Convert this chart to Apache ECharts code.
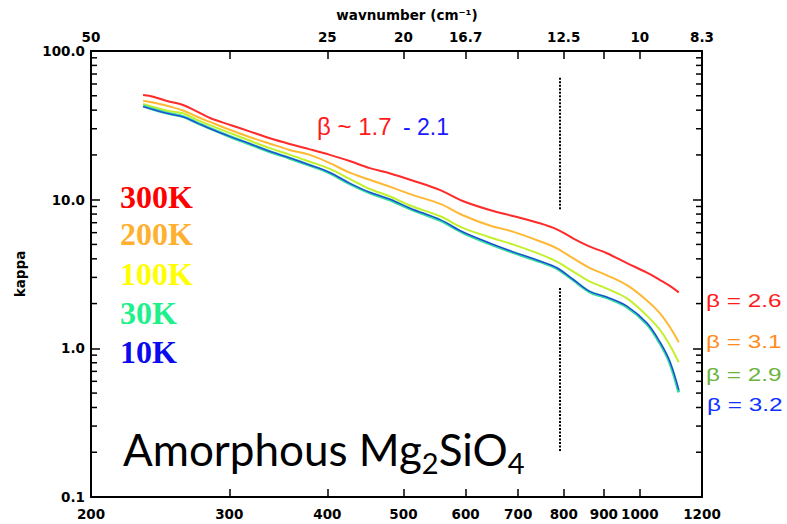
<!DOCTYPE html>
<html>
<head>
<meta charset="utf-8">
<script src="https://cdn.jsdelivr.net/npm/echarts@6/dist/echarts.min.js"></script>
<style>
  html, body { margin: 0; padding: 0; background: #ffffff; }
  #chart { width: 787px; height: 524px; }
</style>
</head>
<body>
<div id="chart"></div>
<script>
// Wavelength grid (micron) shared by every temperature curve
const wavelength = [233, 240, 250, 262, 273, 284, 301, 319, 338, 358, 380, 403, 427, 453, 481,
                    510, 557, 595, 644, 689, 746, 784, 822, 864, 908, 963, 1021, 1061, 1092, 1121];

// Mass absorption coefficient for each dust temperature
const kappa300K = [50.6, 49.3, 46.1, 43.3, 39.1, 35.3, 31.8, 28.7, 25.9, 23.7, 21.8, 20.0, 18.2, 16.3, 15.0,
                   13.6, 11.6, 9.80, 8.52, 7.77, 6.94, 6.32, 5.50, 4.83, 4.36, 3.74, 3.23, 2.88, 2.63, 2.38];
const kappa200K = [46.3, 45.0, 42.8, 39.8, 36.1, 33.2, 29.4, 26.3, 23.8, 21.6, 20.0, 17.6, 15.2, 13.6, 12.2,
                   10.9, 9.36, 7.86, 6.71, 6.10, 5.25, 4.71, 4.04, 3.46, 3.10, 2.66, 2.10, 1.72, 1.39, 1.10];
const kappa100K = [44.0, 42.0, 39.7, 38.1, 34.4, 31.6, 28.0, 24.9, 22.2, 20.1, 18.0, 16.1, 13.8, 11.8, 10.5,
                   9.13, 7.73, 6.46, 5.59, 5.00, 4.30, 3.83, 3.29, 2.81, 2.52, 2.17, 1.66, 1.33, 1.05, 0.806];
const kappa30K  = [42.7, 40.6, 38.2, 36.2, 32.9, 30.0, 26.5, 23.6, 21.0, 19.0, 17.0, 15.1, 12.8, 11.1, 9.95,
                   8.67, 7.25, 6.01, 5.05, 4.42, 3.83, 3.45, 2.89, 2.39, 2.19, 1.90, 1.46, 1.08, 0.798, 0.505];
const kappa10K  = [42.3, 40.3, 38.0, 36.0, 32.8, 29.9, 26.5, 23.7, 21.1, 19.1, 17.1, 15.2, 12.9, 11.2, 10.05,
                   8.75, 7.33, 6.07, 5.10, 4.46, 3.86, 3.48, 2.91, 2.41, 2.21, 1.92, 1.48, 1.10, 0.815, 0.525];

const temperatureNames = ['300K', '200K', '100K', '30K', '10K'];

// Axis ticks and labels
const xTickValues = [200, 300, 400, 500, 600, 700, 800, 900, 1000, 1200];
const topLabelWavelengths = [200, 400, 500, 600, 800, 1000, 1200];
const topLabels = ['50', '25', '20', '16.7', '12.5', '10', '8.3'];
const yTickValues = [0.1, 1, 10, 100];
const yTickLabels = ['0.1', '1.0', '10.0', '100.0'];
const yMinorTicks = [0.2, 0.3, 0.4, 0.5, 0.6, 0.7, 0.8, 0.9, 2, 3, 4, 5, 6, 7, 8, 9,
                     20, 30, 40, 50, 60, 70, 80, 90];

// Dotted marker at ~790 micron, split into two pieces around the curves
const dividerWavelength = 790;
const dividerSegments = [[66, 8.5], [2.55, 0.2]];

const AXIS_FONT = '"DejaVu Sans", sans-serif';
const X_MIN = 200, X_MAX = 1200, Y_MIN = 0.1, Y_MAX = 100;

function nearestLabel(v, values, labels) {
  for (let i = 0; i < values.length; i++) {
    if (Math.abs(Math.log10(v) - Math.log10(values[i])) < 1e-3) return labels[i];
  }
  return '';
}

function pairs(ys) { return wavelength.map((w, i) => [w, ys[i]]); }

const chart = echarts.init(document.getElementById('chart'), null, { renderer: 'svg' });

const lineBase = { type: 'line', showSymbol: false, smooth: 0.35, silent: true, animation: false, z: 3 };

const option = {
  backgroundColor: '#ffffff',
  animation: false,
  grid: { left: 91, right: 85, top: 51, bottom: 27, containLabel: false },
  xAxis: [
    {
      type: 'log', logBase: 10, min: X_MIN, max: X_MAX, position: 'bottom',
      axisLine: { show: true, lineStyle: { color: '#000', width: 2 } },
      axisTick: { show: true, inside: true, length: 8, lineStyle: { color: '#000', width: 1.5 }, customValues: xTickValues },
      axisLabel: {
        show: true, customValues: xTickValues, margin: 10, color: '#000',
        fontFamily: AXIS_FONT, fontWeight: 'bold', fontSize: 13.5,
        formatter: v => nearestLabel(v, xTickValues, xTickValues.map(String))
      },
      splitLine: { show: false }, minorTick: { show: false }
    },
    {
      type: 'log', logBase: 10, min: X_MIN, max: X_MAX, position: 'top',
      axisLine: { show: true, lineStyle: { color: '#000', width: 2 } },
      axisTick: { show: true, inside: true, length: 8, lineStyle: { color: '#000', width: 1.5 }, customValues: xTickValues },
      axisLabel: {
        show: true, customValues: topLabelWavelengths, margin: 7, color: '#000',
        fontFamily: AXIS_FONT, fontWeight: 'bold', fontSize: 13.5,
        formatter: v => nearestLabel(v, topLabelWavelengths, topLabels)
      },
      splitLine: { show: false }
    }
  ],
  yAxis: [
    {
      type: 'log', logBase: 10, min: Y_MIN, max: Y_MAX, position: 'left',
      name: 'kappa', nameLocation: 'middle', nameGap: 64, nameRotate: 90,
      nameTextStyle: { color: '#000', fontFamily: AXIS_FONT, fontWeight: 'bold', fontSize: 13.5 },
      axisLine: { show: true, lineStyle: { color: '#000', width: 2 } },
      axisTick: { show: true, inside: true, length: 9, lineStyle: { color: '#000', width: 1.5 } },
      axisLabel: {
        show: true, margin: 6, color: '#000',
        fontFamily: AXIS_FONT, fontWeight: 'bold', fontSize: 13.5,
        formatter: v => nearestLabel(v, yTickValues, yTickLabels)
      },
      splitLine: { show: false }
    },
    {
      type: 'log', logBase: 10, min: Y_MIN, max: Y_MAX, position: 'right',
      axisLine: { show: true, lineStyle: { color: '#000', width: 2 } },
      axisTick: { show: true, inside: true, length: 9, lineStyle: { color: '#000', width: 1.5 } },
      axisLabel: { show: false },
      splitLine: { show: false }
    }
  ],
  series: [
    Object.assign({}, lineBase, {
      name: temperatureNames[0], data: pairs(kappa300K),
      lineStyle: { color: '#ff2a2a', width: 2 },
      markLine: {
        silent: true, symbol: ['none', 'none'], animation: false,
        label: { show: false },
        lineStyle: { color: '#000', type: [2, 1.5], width: 2 },
        data: dividerSegments.map(s => [
          { coord: [dividerWavelength, s[0]] },
          { coord: [dividerWavelength, s[1]] }
        ])
      }
    }),
    Object.assign({}, lineBase, {
      name: temperatureNames[1], data: pairs(kappa200K),
      lineStyle: { color: '#ffb833', width: 2 }
    }),
    Object.assign({}, lineBase, {
      name: temperatureNames[2], data: pairs(kappa100K),
      lineStyle: { color: '#c3f02c', width: 2 }
    }),
    Object.assign({}, lineBase, {
      name: temperatureNames[3], data: pairs(kappa30K),
      lineStyle: { color: '#2ddc9e', width: 3 }
    }),
    Object.assign({}, lineBase, {
      name: temperatureNames[4], data: pairs(kappa10K),
      lineStyle: { color: '#2a3ee0', width: 1.3 }
    }),
    {
      // minor log ticks on the left and right frame
      type: 'custom', silent: true, animation: false, z: 4,
      data: yMinorTicks.map(v => [X_MIN, v]),
      renderItem: (params, api) => {
        const v = api.value(1);
        const l = api.coord([X_MIN, v]);
        const r = api.coord([X_MAX, v]);
        const st = { stroke: '#000', lineWidth: 1.5 };
        return {
          type: 'group',
          children: [
            { type: 'line', shape: { x1: l[0], y1: l[1], x2: l[0] + 6, y2: l[1] }, style: st },
            { type: 'line', shape: { x1: r[0] - 6, y1: r[1], x2: r[0], y2: r[1] }, style: st }
          ]
        };
      }
    }
  ],
  graphic: [
    {
      type: 'text', x: 407, y: 15,
      style: { text: 'wavnumber (cm⁻¹)', fill: '#000', font: 'bold 13.5px "DejaVu Sans"', textAlign: 'center', textVerticalAlign: 'middle' }
    },
    { type: 'text', x: 120, y: 197, style: { text: temperatureNames[0], fill: '#ff0000', font: 'bold 32px "Liberation Serif"', textVerticalAlign: 'middle' } },
    { type: 'text', x: 120, y: 234, style: { text: temperatureNames[1], fill: '#ffb02e', font: 'bold 32px "Liberation Serif"', textVerticalAlign: 'middle' } },
    { type: 'text', x: 120, y: 274, style: { text: temperatureNames[2], fill: '#ffff00', font: 'bold 32px "Liberation Serif"', textVerticalAlign: 'middle' } },
    { type: 'text', x: 120, y: 313, style: { text: temperatureNames[3], fill: '#1ef08c', font: 'bold 32px "Liberation Serif"', textVerticalAlign: 'middle' } },
    { type: 'text', x: 120, y: 352, style: { text: temperatureNames[4], fill: '#0a0aee', font: 'bold 32px "Liberation Serif"', textVerticalAlign: 'middle' } },

    { type: 'text', x: 317, y: 126.5, style: { text: 'β ~ 1.7', fill: '#ff1a1a', font: '24px "Liberation Sans"', textVerticalAlign: 'middle' } },
    { type: 'text', x: 403, y: 126.5, style: { text: '- 2.1', fill: '#1a1aff', font: '23px "Liberation Sans"', textVerticalAlign: 'middle' } },

    { type: 'text', x: 706, y: 300, scaleX: 1.28, style: { text: 'β = 2.6', fill: '#ff1a1a', font: '19px "Liberation Sans"', textVerticalAlign: 'middle' } },
    { type: 'text', x: 706, y: 341.5, scaleX: 1.28, style: { text: 'β = 3.1', fill: '#ff8c1a', font: '19px "Liberation Sans"', textVerticalAlign: 'middle' } },
    { type: 'text', x: 706, y: 374, scaleX: 1.28, style: { text: 'β = 2.9', fill: '#6cb33e', font: '19px "Liberation Sans"', textVerticalAlign: 'middle' } },
    { type: 'text', x: 707, y: 404, scaleX: 1.28, style: { text: 'β = 3.2', fill: '#1030ff', font: '19px "Liberation Sans"', textVerticalAlign: 'middle' } },

    {
      type: 'text', x: 123, y: 449,
      style: {
        text: '{m|Amorphous Mg}{s|2}{m|SiO}{s|4}',
        textVerticalAlign: 'middle',
        rich: {
          m: { fontFamily: 'Lato', fontSize: 44, lineHeight: 55, fill: '#000' },
          s: { fontFamily: 'Lato', fontSize: 29, lineHeight: 29, verticalAlign: 'bottom', fill: '#000' }
        }
      }
    }
  ]
};

chart.setOption(option);
</script>
</body>
</html>
